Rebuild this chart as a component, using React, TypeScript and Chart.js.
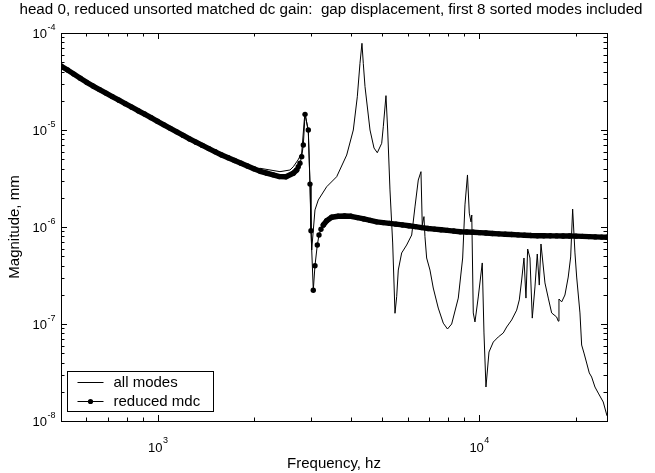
import React, { useEffect, useRef } from "react";
import { Chart, registerables } from "chart.js";

Chart.register(...registerables);

// ---- data ----
const allFreq = [
  500, 608, 772, 981, 1245, 1581, 2007, 2081, 2401, 2579,
  2641, 2732, 2805, 2858, 2873, 2941, 2977, 3013, 3085, 3159,
  3355, 3604, 3872, 4060, 4178, 4259, 4320, 4361, 4415, 4576,
  4709, 4821, 4976, 5033, 5131, 5194, 5280, 5383, 5473, 5540,
  5604, 5741, 5950, 6169, 6315, 6467, 6593, 6654, 6736, 6784,
  6867, 7032, 7200, 7462, 7736, 7973, 8215, 8614, 8888, 9036,
  9200, 9320, 9434, 9488, 9590, 9708, 9940, 10228, 10354, 10503,
  10733, 11069, 11471, 11890, 12182, 12625, 13087, 13335, 13564, 13791,
  13989, 14161, 14395, 14635, 14921, 15170, 15389, 15578, 16029, 16413,
  16818, 17429, 17631, 17720, 18066, 18495, 18939, 19269, 19546, 19873,
  20117, 20596, 20848, 21197, 21611, 22018, 22396, 22933, 23483, 24336,
  25000,
];
const allMag = [
  4.57e-5, 3.03e-5, 1.96e-5, 1.27e-5, 8.21e-6, 5.52e-6, 3.93e-6, 4.03e-6, 3.72e-6, 3.87e-6,
  4.18e-6, 4.91e-6, 5.79e-6, 1.27e-5, 1.5e-5, 9.54e-6, 2.71e-6, 5.79e-7, 1.5e-6, 1.9e-6,
  2.6e-6, 3.3e-6, 5.52e-6, 1.0e-5, 2.2e-5, 4.87e-5, 7.83e-5, 4.87e-5, 2.8e-5, 1.0e-5,
  6.52e-6, 5.83e-6, 7.29e-6, 1.08e-5, 2.26e-5, 1.0e-5, 2.41e-6, 6.84e-7, 1.29e-7, 1.91e-7,
  3.6e-7, 5.4e-7, 6.52e-7, 8.27e-7, 1.61e-6, 3.05e-6, 3.72e-6, 1.05e-6, 1.28e-6, 7.94e-7,
  4.79e-7, 3.6e-7, 2.35e-7, 1.46e-7, 1.02e-7, 8.88e-8, 1.0e-7, 1.85e-7, 4.79e-7, 1.69e-6,
  3.44e-6, 1.39e-6, 1.13e-6, 1.33e-6, 1.3e-7, 1.05e-7, 1.9e-7, 4.26e-7, 8.08e-8, 2.24e-8,
  5.14e-8, 6.52e-8, 7.35e-8, 8.08e-8, 9.31e-8, 1.1e-7, 1.39e-7, 1.77e-7, 2.84e-7, 4.79e-7,
  1.85e-7, 5.93e-7, 4.79e-7, 1.15e-7, 2.41e-7, 5.27e-7, 2.52e-7, 6.68e-7, 2.65e-7, 1.85e-7,
  1.3e-7, 1.18e-7, 1.07e-7, 1.81e-7, 1.69e-7, 1.99e-7, 3.05e-7, 4.91e-7, 1.53e-6, 5.4e-7,
  3.05e-7, 1.3e-7, 6.07e-8, 5.02e-8, 3.96e-8, 3.13e-8, 2.84e-8, 2.24e-8, 1.94e-8, 1.57e-8,
  1.13e-8,
];

const redFreq = [
  500, 524, 548, 574, 601, 629, 659, 690, 722, 757,
  792, 830, 869, 910, 953, 998, 1045, 1094, 1146, 1200,
  1256, 1315, 1377, 1442, 1510, 1581, 1656, 1734, 1816, 1901,
  1991, 2084, 2183, 2286, 2393, 2506,
  2641, 2706, 2737, 2771, 2805, 2838, 2873, 2941, 2977, 2998,
  3048, 3085, 3137, 3175, 3221, 3275, 3355,
  3477, 3641, 3814, 3993, 4181, 4378, 4585, 4801, 5027, 5264,
  5512, 5772, 6044, 6329, 6627, 6939, 7267, 7609, 7967, 8343,
  8736, 9148, 9579, 10030, 10503, 10998, 11516, 12059, 12627, 13222,
  13845, 14497, 15180, 15895, 16644, 17429, 18251, 19111, 20012, 20955,
  21943, 22977, 24060, 25000,
];
const redMag = [
  4.57e-5, 4.15e-5, 3.77e-5, 3.42e-5, 3.1e-5, 2.84e-5, 2.61e-5, 2.4e-5, 2.21e-5, 2.03e-5,
  1.87e-5, 1.72e-5, 1.58e-5, 1.46e-5, 1.34e-5, 1.23e-5, 1.13e-5, 1.04e-5, 9.57e-6, 8.8e-6,
  8.09e-6, 7.49e-6, 6.94e-6, 6.43e-6, 5.96e-6, 5.52e-6, 5.17e-6, 4.85e-6, 4.54e-6, 4.25e-6,
  3.98e-6, 3.75e-6, 3.59e-6, 3.45e-6, 3.31e-6, 3.3e-6,
  3.58e-6, 3.87e-6, 4.19e-6, 4.54e-6, 5.31e-6, 7.01e-6, 1.45e-5, 1.0e-5, 2.77e-6, 9.16e-7,
  2.23e-7, 3.99e-7, 6.52e-7, 8.27e-7, 9.47e-7, 1.05e-6, 1.16e-6,
  1.26e-6, 1.29e-6, 1.3e-6, 1.29e-6, 1.25e-6, 1.21e-6, 1.17e-6, 1.13e-6, 1.11e-6, 1.09e-6,
  1.07e-6, 1.05e-6, 1.03e-6, 1.01e-6, 9.86e-7, 9.66e-7, 9.51e-7, 9.37e-7, 9.22e-7, 9.08e-7,
  8.94e-7, 8.88e-7, 8.82e-7, 8.74e-7, 8.66e-7, 8.58e-7, 8.5e-7, 8.42e-7, 8.36e-7, 8.29e-7,
  8.22e-7, 8.16e-7, 8.13e-7, 8.12e-7, 8.11e-7, 8.1e-7, 8.09e-7, 8.08e-7, 8.05e-7, 8.01e-7,
  7.96e-7, 7.91e-7, 7.87e-7, 7.83e-7,
];

const xMajorTicks = [1000, 10000];
const xMinorTicks = [600, 700, 800, 900, 2000, 3000, 4000, 5000, 6000, 7000, 8000, 9000, 20000];
const xTickLabels = [{ v: 1000, exp: "3" }, { v: 10000, exp: "4" }];
const yMajorTicks = [1e-8, 1e-7, 1e-6, 1e-5, 1e-4];
const yTickLabels = [
  { v: 1e-4, exp: "-4" }, { v: 1e-5, exp: "-5" }, { v: 1e-6, exp: "-6" },
  { v: 1e-7, exp: "-7" }, { v: 1e-8, exp: "-8" },
];
const seriesNames = ["all modes", "reduced mdc"];
const titleText = "head 0, reduced unsorted matched dc gain:  gap displacement, first 8 sorted modes included";
const xTitle = "Frequency, hz";
const yTitle = "Magnitude, mm";

const FONT = '"Liberation Sans", Arial, Helvetica, sans-serif';

const decorPlugin = {
  id: "decor",
  afterDraw(chart: any) {
    const { ctx, chartArea: a, scales } = chart;
    const xs = scales.x;
    const ys = scales.y;
    ctx.save();
    ctx.strokeStyle = "#000";
    ctx.fillStyle = "#000";
    ctx.lineWidth = 1;
    // frame
    ctx.strokeRect(Math.round(a.left) + 0.5, Math.round(a.top) + 0.5, Math.round(a.right - a.left), Math.round(a.bottom - a.top));
    const majLen = 6;
    const minLen = 3.5;
    ctx.beginPath();
    const xTick = (v: number, len: number) => {
      const px = Math.round(xs.getPixelForValue(v)) + 0.5;
      ctx.moveTo(px, a.bottom); ctx.lineTo(px, a.bottom - len);
      ctx.moveTo(px, a.top); ctx.lineTo(px, a.top + len);
    };
    xMajorTicks.forEach((v) => xTick(v, majLen));
    xMinorTicks.forEach((v) => xTick(v, minLen));
    const yTick = (v: number, len: number) => {
      const py = Math.round(ys.getPixelForValue(v)) + 0.5;
      ctx.moveTo(a.left, py); ctx.lineTo(a.left + len, py);
      ctx.moveTo(a.right, py); ctx.lineTo(a.right - len, py);
    };
    yMajorTicks.forEach((v) => yTick(v, majLen));
    yMajorTicks.slice(0, -1).forEach((d) => {
      for (let m = 2; m <= 9; m++) yTick(d * m, minLen);
    });
    ctx.stroke();

    // tick labels
    const baseFont = `13px ${FONT}`;
    const supFont = `9px ${FONT}`;
    ctx.textBaseline = "alphabetic";
    ctx.textAlign = "left";
    yTickLabels.forEach(({ v, exp }) => {
      const py = ys.getPixelForValue(v);
      ctx.font = supFont;
      const we = ctx.measureText(exp).width;
      ctx.font = baseFont;
      const wb = ctx.measureText("10").width;
      const right = a.left - 6;
      const x0 = right - we - wb;
      ctx.fillText("10", x0, py + 5);
      ctx.font = supFont;
      ctx.fillText(exp, x0 + wb + 0.5, py - 3);
    });
    xTickLabels.forEach(({ v, exp }) => {
      const px = xs.getPixelForValue(v);
      ctx.font = supFont;
      const we = ctx.measureText(exp).width;
      ctx.font = baseFont;
      const wb = ctx.measureText("10").width;
      const x0 = px - (wb + we) / 2;
      ctx.fillText("10", x0, a.bottom + 31);
      ctx.font = supFont;
      ctx.fillText(exp, x0 + wb + 0.5, a.bottom + 22);
    });

    // titles
    ctx.font = `15.2px ${FONT}`;
    ctx.textAlign = "center";
    ctx.fillText(titleText, 331, 14);
    ctx.font = `15px ${FONT}`;
    ctx.fillText(xTitle, (a.left + a.right) / 2, 468);
    ctx.save();
    ctx.translate(15, (a.top + a.bottom) / 2);
    ctx.rotate(-Math.PI / 2);
    ctx.textBaseline = "middle";
    ctx.fillText(yTitle, 0, 0);
    ctx.restore();

    // legend
    const lx = a.left + 6.5;
    const ly = a.bottom - 49.5;
    ctx.fillStyle = "#fff";
    ctx.fillRect(lx, ly, 146, 40);
    ctx.fillStyle = "#000";
    ctx.strokeRect(lx, ly, 146, 40);
    ctx.beginPath();
    ctx.moveTo(lx + 10, ly + 11); ctx.lineTo(lx + 36, ly + 11);
    ctx.moveTo(lx + 10, ly + 30); ctx.lineTo(lx + 36, ly + 30);
    ctx.stroke();
    ctx.beginPath();
    ctx.arc(lx + 23, ly + 30, 2.6, 0, Math.PI * 2);
    ctx.fill();
    ctx.textAlign = "left";
    ctx.textBaseline = "middle";
    ctx.font = `15px ${FONT}`;
    ctx.fillText(seriesNames[0], lx + 46, ly + 11);
    ctx.fillText(seriesNames[1], lx + 46, ly + 30);
    ctx.restore();
  },
};

export default function App() {
  const ref = useRef<HTMLCanvasElement | null>(null);
  useEffect(() => {
    if (!ref.current) return;
    const allData = allFreq.map((f, i) => ({ x: f, y: allMag[i] }));
    const redData = redFreq.map((f, i) => ({ x: f, y: redMag[i] }));
    const chart = new Chart(ref.current, {
      type: "line",
      data: {
        datasets: [
          {
            label: seriesNames[0],
            data: allData,
            borderColor: "#000",
            borderWidth: 1,
            pointRadius: 0,
            tension: 0,
          },
          {
            label: seriesNames[1],
            data: redData,
            borderColor: "#000",
            backgroundColor: "#000",
            borderWidth: 1,
            pointRadius: 2.7,
            pointBorderWidth: 0,
            pointBackgroundColor: "#000",
            tension: 0,
            borderJoinStyle: "round",
            borderCapStyle: "round",
            segment: {
              borderWidth: (c: any) => {
                const dx = Math.abs(c.p1.x - c.p0.x);
                const dy = Math.abs(c.p1.y - c.p0.y);
                return dx < 12 && dy <= 1.2 * dx + 0.5 ? 5.4 : 1;
              },
            },
          },
        ],
      },
      options: {
        animation: false,
        responsive: true,
        maintainAspectRatio: false,
        devicePixelRatio: 1,
        events: [],
        layout: { padding: { left: 61, top: 33, right: 48, bottom: 52 } },
        plugins: { legend: { display: false }, tooltip: { enabled: false }, title: { display: false } },
        scales: {
          x: { type: "logarithmic", min: 500, max: 25000, display: false },
          y: { type: "logarithmic", min: 1e-8, max: 1e-4, display: false },
        },
      },
      plugins: [decorPlugin],
    } as any);
    return () => chart.destroy();
  }, []);
  return (
    <div style={{ position: "fixed", left: 0, top: 0, width: 655, height: 473, background: "#fff" }}>
      <canvas ref={ref} />
    </div>
  );
}
